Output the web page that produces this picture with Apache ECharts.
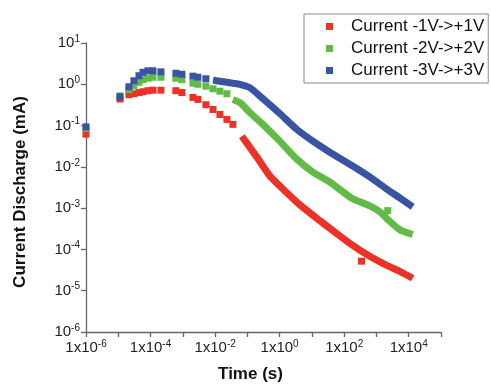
<!DOCTYPE html>
<html><head><meta charset="utf-8">
<script src="https://cdn.jsdelivr.net/npm/echarts@6/dist/echarts.min.js"></script>
<style>html,body{margin:0;padding:0;background:#fff}#c{width:491px;height:388px}</style>
</head><body><div id="c"></div><script>
const seriesNames = ['Current -1V->+1V', 'Current -2V->+2V', 'Current -3V->+3V'];
const seriesColors = ['#ec3127', '#62bb46', '#3a54a4'];
const xLabelExponents = [-6, -4, -2, 0, 2, 4];
const yLabelExponents = [-6, -5, -4, -3, -2, -1, 0, 1];

// separate square markers (early, sparse samples + outliers)
const redPtsTime = [1e-6, 1.13e-5, 2.14e-5, 3.06e-5, 4.38e-5, 5.82e-5, 8.3e-5, 1.19e-4, 2.1e-4, 6.1e-4, 9.4e-4, 2.06e-3, 2.93e-3, 5.2e-3, 8.6e-3, 1.41e-2, 2.32e-2, 3.56e-2, 344];
const redPtsVal = [0.062, 0.44, 0.56, 0.59, 0.63, 0.66, 0.70, 0.72, 0.72, 0.70, 0.63, 0.48, 0.43, 0.32, 0.245, 0.186, 0.141, 0.107, 5.2e-5];
const greenPtsTime = [1e-6, 1.13e-5, 2.14e-5, 3.06e-5, 4.38e-5, 5.82e-5, 8.3e-5, 1.19e-4, 2.1e-4, 6.1e-4, 9.4e-4, 2.06e-3, 2.93e-3, 5.2e-3, 8.6e-3, 1.41e-2, 2.32e-2, 2240];
const greenPtsVal = [0.085, 0.52, 0.74, 0.92, 1.12, 1.29, 1.40, 1.48, 1.48, 1.40, 1.29, 1.06, 1.0, 0.90, 0.78, 0.68, 0.59, 8.7e-4];
const bluePtsTime = [1e-6, 1.13e-5, 2.14e-5, 3.06e-5, 4.38e-5, 5.82e-5, 8.3e-5, 1.19e-4, 2.1e-4, 6.1e-4, 9.4e-4, 2.06e-3, 2.93e-3, 5.2e-3];
const bluePtsVal = [0.093, 0.50, 0.87, 1.22, 1.61, 1.95, 2.12, 2.12, 2.0, 1.85, 1.75, 1.57, 1.48, 1.36];

// dense (continuous-looking) later samples
const redLineTime = [0.0676, 0.197, 0.498, 1.26, 4.22, 17.6, 44.4, 184, 621, 2080, 5260, 1.33e4];
const redLineVal = [0.055, 0.0172, 0.006, 0.00292, 0.00121, 0.000498, 0.000286, 0.000125, 6.8e-5, 4.1e-5, 2.95e-5, 2.0e-5];
const greenLineTime = [3.56e-2, 5.9e-2, 0.119, 0.302, 1.01, 3.41, 10.7, 35.8, 184, 621, 1270, 2080, 5260, 1.33e4];
const greenLineVal = [0.43, 0.36, 0.207, 0.107, 0.042, 0.0154, 0.0075, 0.0043, 0.00168, 0.00114, 0.00082, 0.00056, 0.00030, 0.00023];
const blueLineTime = [8.6e-3, 1.41e-2, 2.32e-2, 3.56e-2, 5.9e-2, 0.119, 0.302, 1.01, 3.41, 10.7, 35.8, 184, 621, 2080, 5260, 1.33e4];
const blueLineVal = [1.26, 1.19, 1.12, 1.06, 1.0, 0.83, 0.45, 0.196, 0.081, 0.042, 0.0227, 0.0105, 0.0057, 0.0029, 0.00178, 0.00108];

const zip = (a, b) => a.map((t, i) => [t, b[i]]);
const pts = [zip(redPtsTime, redPtsVal), zip(greenPtsTime, greenPtsVal), zip(bluePtsTime, bluePtsVal)];
const lines = [zip(redLineTime, redLineVal), zip(greenLineTime, greenLineVal), zip(blueLineTime, blueLineVal)];

const series = [];
for (let i = 0; i < 3; i++) {
  series.push({
    name: seriesNames[i], type: 'line', data: lines[i], symbol: 'none', smooth: 0.2,
    lineStyle: { color: seriesColors[i], width: 7, opacity: 1 }, itemStyle: { color: seriesColors[i], opacity: 1 }, z: 2 + i
  });
  series.push({
    name: seriesNames[i], type: 'scatter', data: pts[i], symbol: 'rect', symbolSize: 7,
    itemStyle: { color: seriesColors[i], opacity: 1 }, z: 2 + i
  });
}

const exp10 = v => Math.round(Math.log10(v));
const labelRich = {
  s: { fontSize: 10, lineHeight: 10, verticalAlign: 'top', color: '#222', fontFamily: 'Liberation Sans' }
};
const axisCommon = {
  type: 'log', logBase: 10, interval: 1,
  axisLine: { show: true, lineStyle: { color: '#666', width: 1.3 } },
  axisTick: { show: true, inside: false, length: 5, lineStyle: { color: '#666', width: 1.3 } },
  splitLine: { show: false },
  minorTick: { show: false },
  nameTextStyle: { fontFamily: 'Liberation Sans', fontWeight: 'bold', fontSize: 17, color: '#111' }
};

const chart = echarts.init(document.getElementById('c'), null, { renderer: 'canvas' });
chart.setOption({
  animation: false,
  backgroundColor: '#fff',
  grid: { left: 86, right: 50, top: 43, bottom: 54 },
  legend: {
    data: seriesNames, left: 304, top: 14, orient: 'vertical', icon: 'rect',
    itemWidth: 7, itemHeight: 7, itemGap: 5,
    borderColor: '#888', borderWidth: 1, padding: [4, 4, 4, 22],
    textStyle: { fontFamily: 'Liberation Sans', fontSize: 17, color: '#111', padding: [0, 0, 0, 13] }
  },
  xAxis: Object.assign({}, axisCommon, {
    min: 1e-6, max: 1e5,
    name: 'Time (s)', nameLocation: 'middle', nameGap: 34,
    nameTextStyle: Object.assign({}, axisCommon.nameTextStyle, { padding: [0, 26, 0, 0] }),
    axisLabel: {
      margin: 7, fontFamily: 'Liberation Sans', fontSize: 15, color: '#222', lineHeight: 18,
      formatter: v => { const e = exp10(v); return xLabelExponents.includes(e) ? '1x10{s|' + e + '}' : ''; },
      rich: labelRich
    }
  }),
  yAxis: Object.assign({}, axisCommon, {
    min: 1e-6, max: 10,
    name: 'Current Discharge (mA)', nameLocation: 'middle', nameGap: 57,
    nameTextStyle: Object.assign({}, axisCommon.nameTextStyle, { padding: [0, 9, 0, 0] }),
    axisLabel: {
      margin: 6, fontFamily: 'Liberation Sans', fontSize: 15, color: '#222', lineHeight: 18,
      formatter: v => { const e = exp10(v); return yLabelExponents.includes(e) ? '10{s|' + e + '}' : ''; },
      rich: labelRich
    }
  }),
  series: series
});
</script></body></html>
